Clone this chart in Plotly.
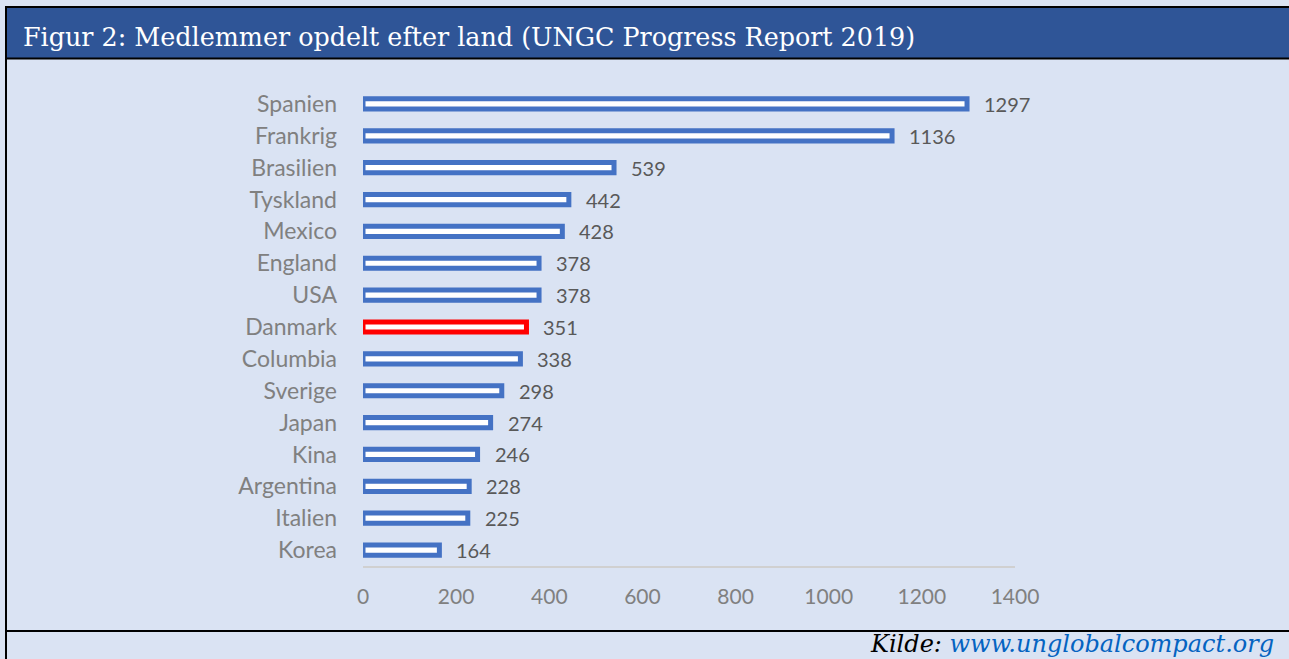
import plotly.graph_objects as go

# data
lande = ['Spanien', 'Frankrig', 'Brasilien', 'Tyskland', 'Mexico', 'England', 'USA',
         'Danmark', 'Columbia', 'Sverige', 'Japan', 'Kina', 'Argentina', 'Italien', 'Korea']
medlemmer = [1297, 1136, 539, 442, 428, 378, 378, 351, 338, 298, 274, 246, 228, 225, 164]
x_ticks = [0, 200, 400, 600, 800, 1000, 1200, 1400]
fremhaev = 'Danmark'

title_text = 'Figur 2: Medlemmer opdelt efter land (UNGC Progress Report 2019)'
kilde_text = 'www.unglobalcompact.org'

BLUE = '#4472C4'
RED = '#FF0000'
BG = '#DAE3F3'
BANNER = '#2F5597'

W_PX, H_PX = 1289, 659
L, R, T, B = 363, 1015, 88, 566


def fx(px):
    return (px - L) / (R - L)


def fy(py):
    return (B - py) / (B - T)


line_colors = [RED if land == fremhaev else BLUE for land in lande]

fig = go.Figure()
fig.add_trace(go.Bar(
    x=medlemmer,
    y=lande,
    orientation='h',
    width=0.32,
    marker=dict(color='white', line=dict(color=line_colors, width=5)),
    hoverinfo='x+y',
))

annotations = []
for land, v in zip(lande, medlemmer):
    annotations.append(dict(
        x=v, y=land, xref='x', yref='y', text=str(v), showarrow=False,
        xanchor='left', yanchor='middle', xshift=15,
        font=dict(family='Lato, Open Sans, sans-serif', size=20, color='#595959'),
    ))

annotations.append(dict(
    x=fx(21), y=fy(37), xref='paper', yref='paper', text=title_text,
    showarrow=False, xanchor='left', yanchor='middle',
    font=dict(family='Georgia, DejaVu Serif, serif', size=25.4, color='white'),
))
annotations.append(dict(
    x=fx(1276), y=fy(644), xref='paper', yref='paper',
    text="<i>Kilde: <span style='color:#0563C1'>" + kilde_text + "</span></i>",
    showarrow=False, xanchor='right', yanchor='middle',
    font=dict(family='Georgia, DejaVu Serif, serif', size=24, color='black'),
))

shapes = [
    dict(type='rect', xref='paper', yref='paper', x0=fx(6), x1=fx(W_PX),
         y0=fy(58), y1=fy(7), fillcolor=BANNER, line=dict(width=0), layer='below'),
    dict(type='line', xref='paper', yref='paper', x0=fx(6), x1=fx(W_PX),
         y0=fy(7), y1=fy(7), line=dict(color='black', width=2)),
    dict(type='line', xref='paper', yref='paper', x0=fx(6), x1=fx(6),
         y0=fy(6), y1=fy(H_PX), line=dict(color='black', width=2)),
    dict(type='line', xref='paper', yref='paper', x0=fx(6), x1=fx(W_PX),
         y0=fy(58.5), y1=fy(58.5), line=dict(color='black', width=2)),
    dict(type='line', xref='paper', yref='paper', x0=fx(6), x1=fx(W_PX),
         y0=fy(631), y1=fy(631), line=dict(color='black', width=2)),
]

fig.update_layout(
    width=W_PX, height=H_PX,
    margin=dict(l=L, r=W_PX - R, t=T, b=H_PX - B, pad=0),
    paper_bgcolor=BG, plot_bgcolor=BG,
    showlegend=False,
    bargap=0.68,
    annotations=annotations,
    shapes=shapes,
    xaxis=dict(
        range=[0, 1400], tickvals=x_ticks, showgrid=False, zeroline=False,
        showline=True, linecolor='#D0D0D0', linewidth=2,
        ticks='', ticklabelstandoff=11,
        tickfont=dict(family='Lato, Open Sans, sans-serif', size=21, color='#808080'),
    ),
    yaxis=dict(
        categoryorder='array', categoryarray=lande, autorange='reversed',
        showgrid=False, zeroline=False, showline=False, ticks='',
        ticklabelstandoff=25,
        tickfont=dict(family='Lato, Open Sans, sans-serif', size=23, color='#808080'),
    ),
)

fig.write_html('out.html', config={'displayModeBar': False},
               post_script="document.body.style.margin='0';"
               "document.body.style.overflow='hidden';"
               "document.body.style.background='" + BG + "';")
